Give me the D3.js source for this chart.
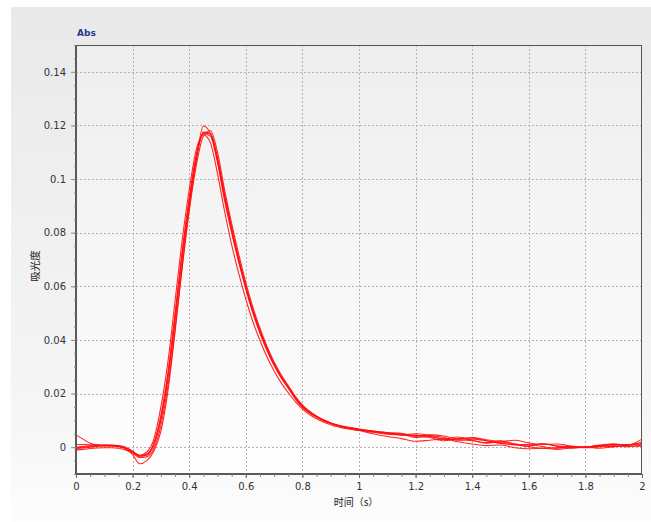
<!DOCTYPE html>
<html><head><meta charset="utf-8">
<script src="https://cdn.jsdelivr.net/npm/d3@7/dist/d3.min.js"></script>
<style>html,body{margin:0;padding:0;background:#fff;}svg{display:block;}</style>
</head><body><svg id="c" width="651" height="522"></svg>
<script>
// time axis (s)
const times = [];
for (let i = 0; i <= 40; i++) times.push(+(i * 0.025).toFixed(3));
for (let i = 1; i <= 20; i++) times.push(+(1 + i * 0.05).toFixed(3));

const series1 = [0.0000,0.0003,0.0005,0.0007,0.0008,0.0008,0.0006,0.0000,-0.0015,-0.0032,-0.0025,0.0015,0.0120,0.0280,0.0500,0.0730,0.0930,0.1090,0.1170,0.1160,0.1060,0.0920,0.0800,0.0690,0.0590,0.0500,0.0425,0.0360,0.0305,0.0258,0.0220,0.0180,0.0148,0.0128,0.0112,0.0098,0.0088,0.0080,0.0074,0.0070,0.0066,
 0.0058,0.0050,0.0046,0.0044,0.0040,0.0030,0.0028,0.0024,0.0016,0.0020,0.0012,0.0008,0.0012,0.0004,0.0002,0.0000,0.0004,0.0010,0.0010,0.0012];
const series2 = [-0.0010,-0.0008,-0.0005,-0.0003,-0.0002,-0.0002,-0.0004,-0.0010,-0.0022,-0.0038,-0.0036,-0.0005,0.0080,0.0230,0.0440,0.0670,0.0880,0.1050,0.1160,0.1180,0.1100,0.0960,0.0835,0.0720,0.0615,0.0522,0.0444,0.0376,0.0318,0.0270,0.0230,0.0190,0.0158,0.0134,0.0116,0.0102,0.0090,0.0081,0.0074,0.0068,0.0063,
 0.0056,0.0048,0.0046,0.0050,0.0044,0.0036,0.0026,0.0030,0.0024,0.0014,0.0010,0.0002,-0.0004,-0.0002,0.0000,0.0001,-0.0004,0.0002,0.0008,0.0018];
const series3 = [0.0046,0.0030,0.0015,0.0008,0.0006,0.0005,0.0002,-0.0006,-0.0028,-0.0062,-0.0050,-0.0015,0.0060,0.0210,0.0430,0.0670,0.0890,0.1070,0.1198,0.1170,0.1070,0.0930,0.0805,0.0695,0.0595,0.0505,0.0430,0.0365,0.0308,0.0262,0.0222,0.0184,0.0152,0.0130,0.0114,0.0100,0.0090,0.0083,0.0077,0.0072,0.0068,
 0.0060,0.0055,0.0052,0.0040,0.0046,0.0042,0.0030,0.0036,0.0028,0.0022,0.0026,0.0016,0.0010,0.0012,0.0004,0.0000,0.0008,0.0012,0.0008,0.0030];
const series4 = [0.0010,0.0010,0.0009,0.0009,0.0008,0.0007,0.0004,-0.0002,-0.0016,-0.0030,-0.0018,0.0030,0.0150,0.0320,0.0545,0.0770,0.0960,0.1110,0.1165,0.1135,0.1020,0.0880,0.0755,0.0648,0.0552,0.0468,0.0398,0.0336,0.0284,0.0240,0.0203,0.0170,0.0142,0.0122,0.0106,0.0094,0.0084,0.0076,0.0070,0.0066,0.0062,
 0.0050,0.0040,0.0032,0.0022,0.0026,0.0030,0.0020,0.0012,0.0006,0.0008,-0.0002,-0.0006,-0.0004,-0.0008,-0.0002,0.0000,0.0006,0.0002,0.0008,0.0012];
const series5 = [-0.0005,-0.0003,0.0000,0.0003,0.0005,0.0005,0.0003,-0.0003,-0.0018,-0.0034,-0.0030,0.0008,0.0100,0.0255,0.0470,0.0700,0.0905,0.1075,0.1175,0.1170,0.1080,0.0945,0.0820,0.0705,0.0602,0.0512,0.0436,0.0370,0.0312,0.0264,0.0225,0.0186,0.0154,0.0132,0.0115,0.0101,0.0090,0.0081,0.0075,0.0071,0.0067,
 0.0060,0.0052,0.0050,0.0036,0.0040,0.0030,0.0038,0.0026,0.0016,0.0024,0.0012,0.0004,0.0014,0.0004,-0.0004,0.0000,0.0006,0.0012,0.0006,0.0004];
const series6 = [-0.0003,0.0000,0.0003,0.0005,0.0006,0.0006,0.0004,-0.0002,-0.0016,-0.0033,-0.0027,0.0012,0.0110,0.0268,0.0486,0.0716,0.0918,0.1082,0.1172,0.1168,0.1072,0.0935,0.0812,0.0700,0.0598,0.0508,0.0432,0.0366,0.0310,0.0262,0.0223,0.0184,0.0152,0.0130,0.0113,0.0100,0.0089,0.0080,0.0074,0.0070,0.0065,
 0.0058,0.0054,0.0046,0.0044,0.0036,0.0024,0.0032,0.0034,0.0024,0.0016,0.0008,0.0010,0.0002,-0.0004,0.0002,-0.0002,0.0002,0.0006,0.0002,0.0008];
const allSeries = [series1, series2, series3, series4, series5, series6];

const xTicks = [0, 0.2, 0.4, 0.6, 0.8, 1, 1.2, 1.4, 1.6, 1.8, 2];
const yTicks = [0, 0.02, 0.04, 0.06, 0.08, 0.1, 0.12, 0.14];
const xTitle = "时间（s）";
const yTitle = "吸光度";
const unitLabel = "Abs";

const svg = d3.select("#c");
const defs = svg.append("defs");
const g1 = defs.append("linearGradient").attr("id","outerG").attr("x1",0).attr("y1",0).attr("x2",0).attr("y2",1);
g1.append("stop").attr("offset","0%").attr("stop-color","#e9e9e9");
g1.append("stop").attr("offset","80%").attr("stop-color","#f6f6f6");
g1.append("stop").attr("offset","100%").attr("stop-color","#fdfdfd");
const g2 = defs.append("linearGradient").attr("id","plotG").attr("x1",0).attr("y1",0).attr("x2",0).attr("y2",1);
g2.append("stop").attr("offset","0%").attr("stop-color","#eeeeee");
g2.append("stop").attr("offset","100%").attr("stop-color","#fefefe");

svg.append("rect").attr("x",11).attr("y",7).attr("width",640).attr("height",515).attr("fill","url(#outerG)");

const L = 76, R = 642, T = 45, B = 474;
const x = d3.scaleLinear().domain([0, 2]).range([L, R]);
const y = d3.scaleLinear().domain([-0.01, 0.15]).range([B, T]);

svg.append("rect").attr("x",L).attr("y",T).attr("width",R-L).attr("height",B-T).attr("fill","url(#plotG)");

// grid
const grid = svg.append("g").attr("stroke","#b2b2b2").attr("stroke-dasharray","2,2").attr("stroke-width",1);
xTicks.slice(1, -1).forEach(t => grid.append("line").attr("x1",Math.round(x(t))+0.5).attr("x2",Math.round(x(t))+0.5).attr("y1",T).attr("y2",B));
yTicks.forEach(t => grid.append("line").attr("y1",Math.round(y(t))+0.5).attr("y2",Math.round(y(t))+0.5).attr("x1",L).attr("x2",R));

// lines
const line = d3.line().x((d,i)=>x(times[i])).y(d=>y(d)).curve(d3.curveMonotoneX);
const plot = svg.append("g");
allSeries.forEach(s => plot.append("path").attr("d", line(s)).attr("fill","none").attr("stroke","#ff1010").attr("stroke-width",1.1).attr("stroke-opacity",0.9));

// frame
svg.append("rect").attr("x",L+0.5).attr("y",T+0.5).attr("width",R-L-1).attr("height",B-T-1).attr("fill","none").attr("stroke","#555").attr("stroke-width",1);
svg.append("line").attr("x1",L).attr("x2",L).attr("y1",T).attr("y2",B+1).attr("stroke","#5a5a5a").attr("stroke-width",2);
svg.append("line").attr("x1",L).attr("x2",R).attr("y1",B).attr("y2",B).attr("stroke","#5a5a5a").attr("stroke-width",2);

// axes
const fontFam = "Verdana, 'DejaVu Sans', sans-serif";
const xMinor = d3.range(0, 2.0001, 0.05);
svg.append("g").attr("transform",`translate(0,${B})`).call(d3.axisBottom(x).tickValues(xMinor).tickSize(3).tickFormat(""))
  .call(g=>{g.select(".domain").remove(); g.selectAll("line").attr("stroke","#888");});
svg.append("g").attr("transform",`translate(0,${B})`).call(d3.axisBottom(x).tickValues(xTicks).tickSize(4).tickPadding(5).tickFormat(d3.format("~g"))).call(g=>{
  g.select(".domain").remove(); g.selectAll("line").attr("stroke","#666");
  g.selectAll("text").attr("fill","#333").attr("font-size","10px").attr("font-family",fontFam);
});
const yMinor = d3.range(-0.01, 0.15001, 0.005);
svg.append("g").attr("transform",`translate(${L},0)`).call(d3.axisLeft(y).tickValues(yMinor).tickSize(2).tickFormat(""))
  .call(g=>{g.select(".domain").remove(); g.selectAll("line").attr("stroke","#888");});
svg.append("g").attr("transform",`translate(${L},0)`).call(d3.axisLeft(y).tickValues(yTicks).tickSize(5).tickPadding(5).tickFormat(d3.format("~g"))).call(g=>{
  g.select(".domain").remove(); g.selectAll("line").attr("stroke","#888");
  g.selectAll("text").attr("fill","#333").attr("font-size","10px").attr("font-family",fontFam);
});

svg.append("text").attr("x",356).attr("y",506).attr("text-anchor","middle").attr("font-size","10px")
  .attr("font-family","'Noto Sans CJK SC', sans-serif").attr("fill","#222").text(xTitle);
svg.append("text").attr("transform","translate(39,266) rotate(-90)").attr("text-anchor","middle").attr("font-size","10.5px")
  .attr("font-family","'Noto Sans CJK SC', sans-serif").attr("fill","#222").text(yTitle);
svg.append("text").attr("x",77).attr("y",36).attr("font-size","9px").attr("font-weight","bold")
  .attr("font-family",fontFam).attr("fill","#2b3a8c").text(unitLabel);
</script></body></html>
